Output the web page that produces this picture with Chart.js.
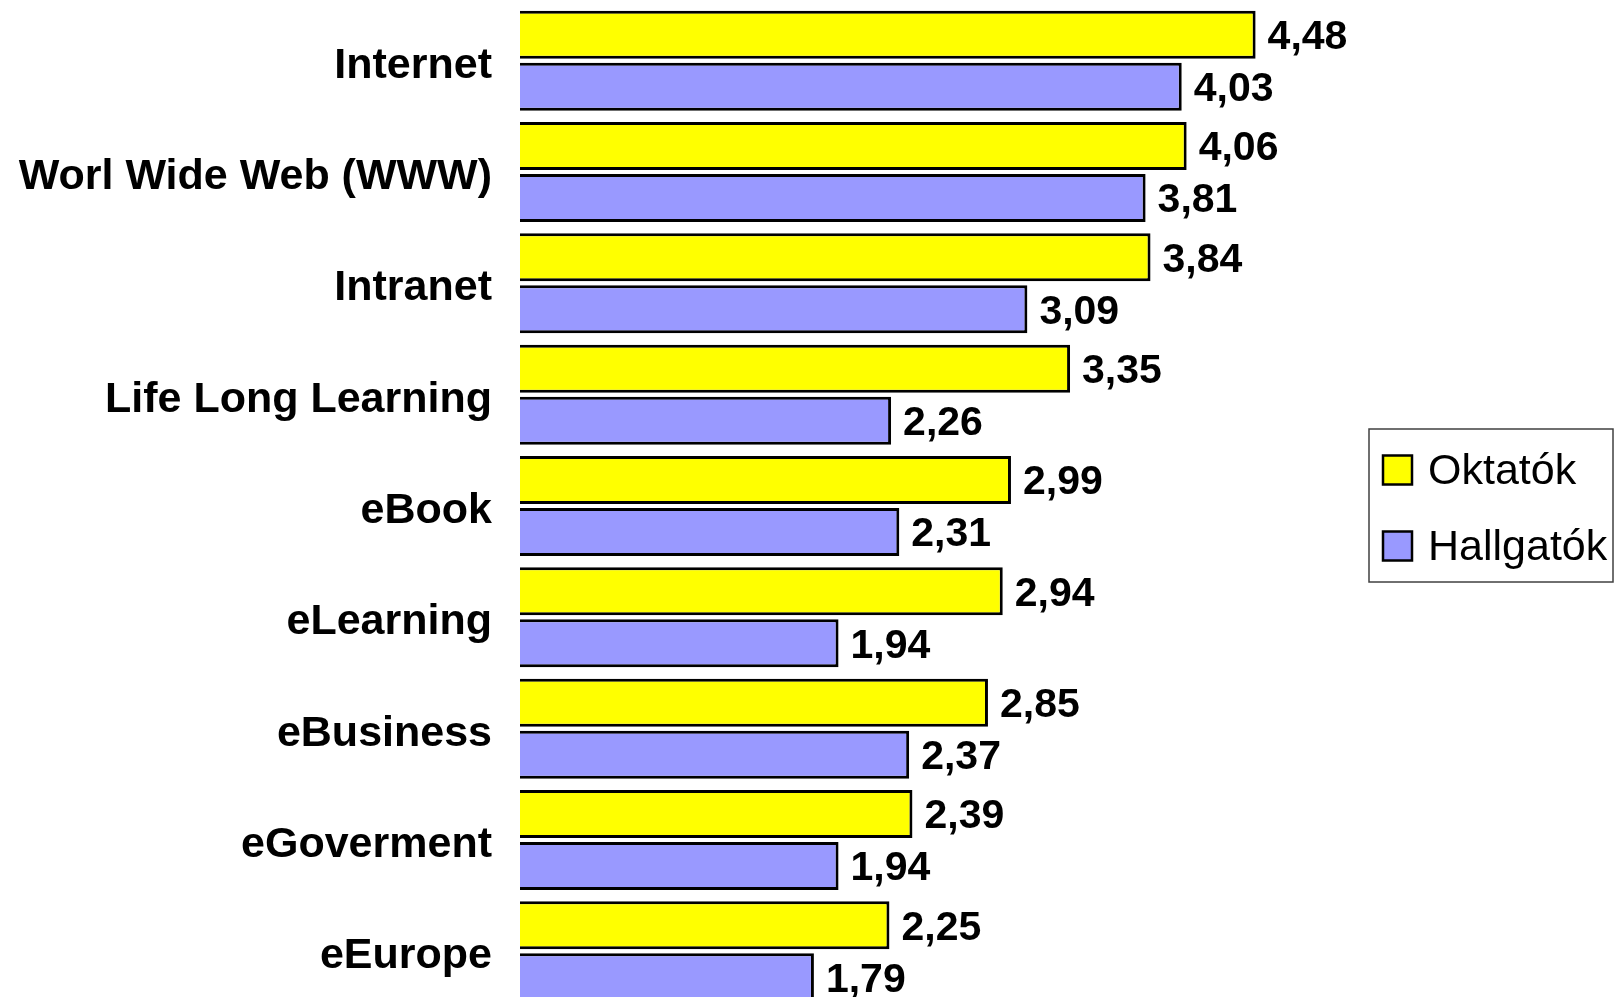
<!DOCTYPE html>
<html>
<head>
<meta charset="utf-8">
<script src="https://cdn.jsdelivr.net/npm/chart.js@4"></script>
<style>
html,body{margin:0;padding:0;background:#fff;overflow:hidden;}
canvas{display:block;}
</style>
</head>
<body>
<canvas id="c" width="1615" height="1012"></canvas>
<script>
const categories = ['Internet','Worl Wide Web (WWW)','Intranet','Life Long Learning','eBook','eLearning','eBusiness','eGoverment','eEurope'];
const oktatok = [4.48,4.06,3.84,3.35,2.99,2.94,2.85,2.39,2.25];
const hallgatok = [4.03,3.81,3.09,2.26,2.31,1.94,2.37,1.94,1.79];
const seriesNames = ['Oktatók','Hallgatók'];

const valueLabels = {
  id: 'valueLabels',
  afterDatasetsDraw(chart) {
    const ctx = chart.ctx;
    ctx.save();
    ctx.font = 'bold 41px "Liberation Sans", Arial, sans-serif';
    ctx.fillStyle = '#000';
    ctx.textAlign = 'left';
    ctx.textBaseline = 'middle';
    chart.data.datasets.forEach((ds, di) => {
      const meta = chart.getDatasetMeta(di);
      meta.data.forEach((bar, i) => {
        const txt = ds.data[i].toFixed(2).replace('.', ',');
        ctx.fillText(txt, bar.x + 12, bar.y + 3);
      });
    });
    ctx.restore();
  }
};

const boxLegend = {
  id: 'boxLegend',
  afterDraw(chart, args, opts) {
    const ctx = chart.ctx;
    ctx.save();
    ctx.strokeStyle = '#404040';
    ctx.lineWidth = 1.5;
    ctx.strokeRect(opts.x, opts.y, opts.w, opts.h);
    ctx.font = '43px "Liberation Sans", Arial, sans-serif';
    ctx.textBaseline = 'middle';
    ctx.textAlign = 'left';
    chart.data.datasets.forEach((ds, i) => {
      const cy = opts.firstY + i * opts.step;
      ctx.fillStyle = ds.backgroundColor;
      ctx.fillRect(opts.boxX, cy - opts.box / 2, opts.box, opts.box);
      ctx.strokeStyle = '#000';
      ctx.lineWidth = 2.5;
      ctx.strokeRect(opts.boxX, cy - opts.box / 2, opts.box, opts.box);
      ctx.fillStyle = '#000';
      ctx.fillText(ds.label, opts.textX, cy + 2);
    });
    ctx.restore();
  }
};

new Chart(document.getElementById('c'), {
  type: 'bar',
  data: {
    labels: categories,
    datasets: [
      { label: seriesNames[0], data: oktatok, backgroundColor: '#FFFF00', borderColor: '#000', borderWidth: 3 },
      { label: seriesNames[1], data: hallgatok, backgroundColor: '#9999FF', borderColor: '#000', borderWidth: 3 }
    ]
  },
  options: {
    indexAxis: 'y',
    responsive: false,
    animation: false,
    devicePixelRatio: 1,
    layout: { padding: { top: 5, bottom: 5, right: 274, left: 0 } },
    datasets: { bar: { categoryPercentage: 0.934, barPercentage: 0.923 } },
    plugins: {
      legend: { display: false },
      tooltip: { enabled: false },
      boxLegend: { x: 1369, y: 429, w: 244, h: 153, boxX: 1383, box: 29, textX: 1428, firstY: 470, step: 76 }
    },
    scales: {
      x: { display: false, min: 0, max: 5 },
      y: {
        grid: { display: false, drawTicks: false },
        border: { display: false },
        ticks: {
          padding: 28,
          labelOffset: 5,
          color: '#000',
          font: { family: '"Liberation Sans", Arial, sans-serif', size: 43, weight: 'bold' }
        },
        afterFit(scale) { scale.width = 520; scale.paddingTop = 0; scale.paddingBottom = 0; }
      }
    }
  },
  plugins: [valueLabels, boxLegend]
});
</script>
</body>
</html>
